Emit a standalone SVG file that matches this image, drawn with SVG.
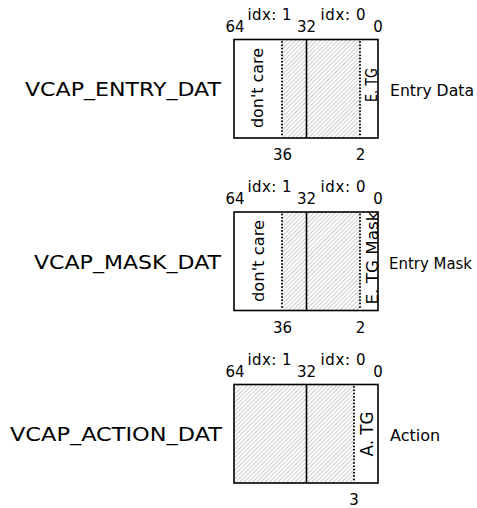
<svg xmlns="http://www.w3.org/2000/svg" width="477" height="508" viewBox="0 0 477 508">
<style>
text{font-family:"DejaVu Sans","Liberation Sans",sans-serif;fill:#000}
.reg{font-size:20px;text-anchor:end}
.side{font-size:16px}
.num{font-size:15px;text-anchor:middle}
.rot{text-anchor:middle}
.box{fill:none;stroke:#000;stroke-width:1.6}
.mid{stroke:#000;stroke-width:1.6}
.dot{stroke:#000;stroke-width:2;stroke-linecap:round;stroke-dasharray:0 3.3}
</style>
<defs>
<pattern id="hatch" patternUnits="userSpaceOnUse" width="3" height="3" patternTransform="rotate(45)">
<line x1="0.5" y1="0" x2="0.5" y2="3" stroke="#aaaaaa" stroke-width="0.6"/>
</pattern>
</defs>
<rect width="477" height="508" fill="#fff"/>

<g id="entry">
<text class="reg" x="221" y="96" textLength="196" lengthAdjust="spacingAndGlyphs">VCAP_ENTRY_DAT</text>
<rect x="282" y="39.5" width="78" height="98.5" fill="url(#hatch)"/>
<rect class="box" x="234" y="39.5" width="144" height="98.5"/>
<line class="mid" x1="306.5" y1="39.5" x2="306.5" y2="138"/>
<line class="dot" x1="282" y1="42" x2="282" y2="137"/>
<line class="dot" x1="360" y1="42" x2="360" y2="137"/>
<text class="num" x="235" y="31.5">64</text>
<text class="num" x="269.5" y="19.5" textLength="44" lengthAdjust="spacing">idx: 1</text>
<text class="num" x="306.5" y="31.5">32</text>
<text class="num" x="343" y="19.5" textLength="45" lengthAdjust="spacing">idx: 0</text>
<text class="num" x="378" y="31.5">0</text>
<text class="num" x="282.5" y="160">36</text>
<text class="num" x="360.5" y="160">2</text>
<text class="rot" font-size="16" transform="translate(263.3,88) rotate(-90)" textLength="80" lengthAdjust="spacingAndGlyphs">don't care</text>
<text class="rot" font-size="15" transform="translate(376.5,85) rotate(-90)" textLength="34" lengthAdjust="spacingAndGlyphs">E. TG</text>
<text class="side" x="390" y="96" textLength="84" lengthAdjust="spacingAndGlyphs">Entry Data</text>
</g>

<g id="mask">
<text class="reg" x="221" y="268.5" textLength="187" lengthAdjust="spacingAndGlyphs">VCAP_MASK_DAT</text>
<rect x="282" y="212" width="78" height="98.5" fill="url(#hatch)"/>
<rect class="box" x="234" y="212" width="144" height="98.5"/>
<line class="mid" x1="306.5" y1="212" x2="306.5" y2="310.5"/>
<line class="dot" x1="282" y1="214.5" x2="282" y2="309.5"/>
<line class="dot" x1="360" y1="214.5" x2="360" y2="309.5"/>
<text class="num" x="235" y="204.4">64</text>
<text class="num" x="269.5" y="192.2" textLength="44" lengthAdjust="spacing">idx: 1</text>
<text class="num" x="306.5" y="204.4">32</text>
<text class="num" x="343" y="192.2" textLength="45" lengthAdjust="spacing">idx: 0</text>
<text class="num" x="378" y="204.4">0</text>
<text class="num" x="282.5" y="332.8">36</text>
<text class="num" x="360.5" y="332.8">2</text>
<text class="rot" font-size="16" transform="translate(264,261) rotate(-90)" textLength="82" lengthAdjust="spacingAndGlyphs">don't care</text>
<text class="rot" font-size="16" transform="translate(377.5,258) rotate(-90)" textLength="93" lengthAdjust="spacingAndGlyphs">E. TG Mask</text>
<text class="side" x="389" y="268.5" textLength="83" lengthAdjust="spacingAndGlyphs">Entry Mask</text>
</g>

<g id="action">
<text class="reg" x="222" y="441" textLength="212" lengthAdjust="spacingAndGlyphs">VCAP_ACTION_DAT</text>
<rect x="234" y="384.5" width="120" height="98.5" fill="url(#hatch)"/>
<rect class="box" x="234" y="384.5" width="144" height="98.5"/>
<line class="mid" x1="306.5" y1="384.5" x2="306.5" y2="483"/>
<line class="dot" x1="354" y1="387" x2="354" y2="482"/>
<text class="num" x="235" y="376.9">64</text>
<text class="num" x="269.5" y="364.7" textLength="44" lengthAdjust="spacing">idx: 1</text>
<text class="num" x="306.5" y="376.9">32</text>
<text class="num" x="343" y="364.7" textLength="45" lengthAdjust="spacing">idx: 0</text>
<text class="num" x="378" y="376.9">0</text>
<text class="num" x="354" y="505.3">3</text>
<text class="rot" font-size="17" transform="translate(372.5,434) rotate(-90)" textLength="45" lengthAdjust="spacingAndGlyphs">A. TG</text>
<text class="side" x="390" y="441">Action</text>
</g>

<g id="connectors"></g>
</svg>
